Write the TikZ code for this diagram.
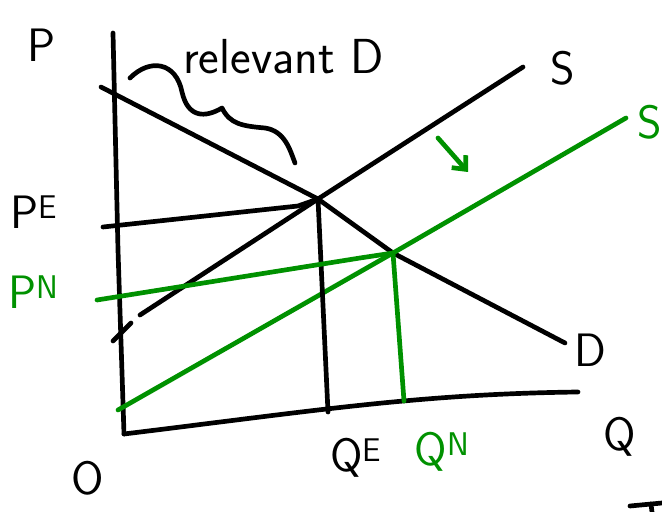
\documentclass[tikz,border=0pt]{standalone}
\usetikzlibrary{arrows.meta}
\definecolor{grn}{RGB}{0,145,0}
\tikzset{
  curve/.style={line width=4pt},
  lbl/.style={font=\sffamily\fontsize{40}{42}\selectfont, inner sep=0pt},
  note/.style={font=\sffamily\fontsize{42}{44}\selectfont, inner sep=0pt},
}
\begin{document}
\begin{tikzpicture}[x=0.03cm, y=-0.03cm, >=stealth, line join=round, line cap=round]
				\useasboundingbox (0,0) rectangle (662,512);
				% 1. Axes
				\draw[curve] (113,33) -- (118,250) -- (124,434);
				\draw[curve] (124,434) .. controls (320,410) and (420,394) .. (578,392);
				
				% 2. Equilibria
				\coordinate (E) at (318,199);
				\coordinate (N) at (393,253);
				
				% 3. Demand and supply
				\draw[curve] (101,87) -- (E) -- (N) -- (565,343);
				\draw[curve] (113,341) -- (131,323);
				\draw[curve] (140,315) -- (E) -- (523,67);
				\draw[curve, grn] (118,410) -- (N) -- (626,118);
				
				% 4. Prices and quantities
				\draw[curve] (103,227) -- (298,206) -- (E);
				\draw[curve] (E) -- (328,412);
				\draw[curve, grn] (97,300) -- (360,258) -- (N);
				\draw[curve, grn] (N) -- (404,401);
				
				% 5. Shift of supply
				\draw[curve, grn, -{Straight Barb[length=9pt, width=16pt]}] (438,138) -- (468,172);
				
				% 6. Relevant part of D
				\draw[curve] (130,78) .. controls (150,58) and (176,62) .. (182,92)
				.. controls (188,118) and (205,118) .. (222,108)
				.. controls (230,124) and (242,126) .. (265,128)
				.. controls (285,131) and (290,150) .. (295,163);
				\node[note, anchor=base west] (rel) at (183,74) {relevant D};
				
				% 7. Labels
				\node[lbl] (pax) at (42,45) {P};
				\node[lbl] (pe) at (34,212) {P\textsuperscript{E}};
				\node[lbl, grn] (pn) at (34,292) {P\textsuperscript{N}};
				\node[lbl] (orig) at (88,478) {O};
				\node[lbl] (qe) at (356,458) {Q\textsuperscript{E}};
				\node[lbl, grn] (qn) at (442,452) {Q\textsuperscript{N}};
				\node[lbl] (qax) at (620,437) {Q};
				\node[lbl] (sold) at (563,68) {S};
				\node[lbl, grn] (snew) at (650,122) {S};
				\node[lbl] (dlab) at (590,350) {D};
				
				% 8. Fragment at the corner
				\draw[curve] (630,506) -- (662,503);
				\draw[curve] (651,504) -- (652,512);
\end{tikzpicture}
\end{document}
